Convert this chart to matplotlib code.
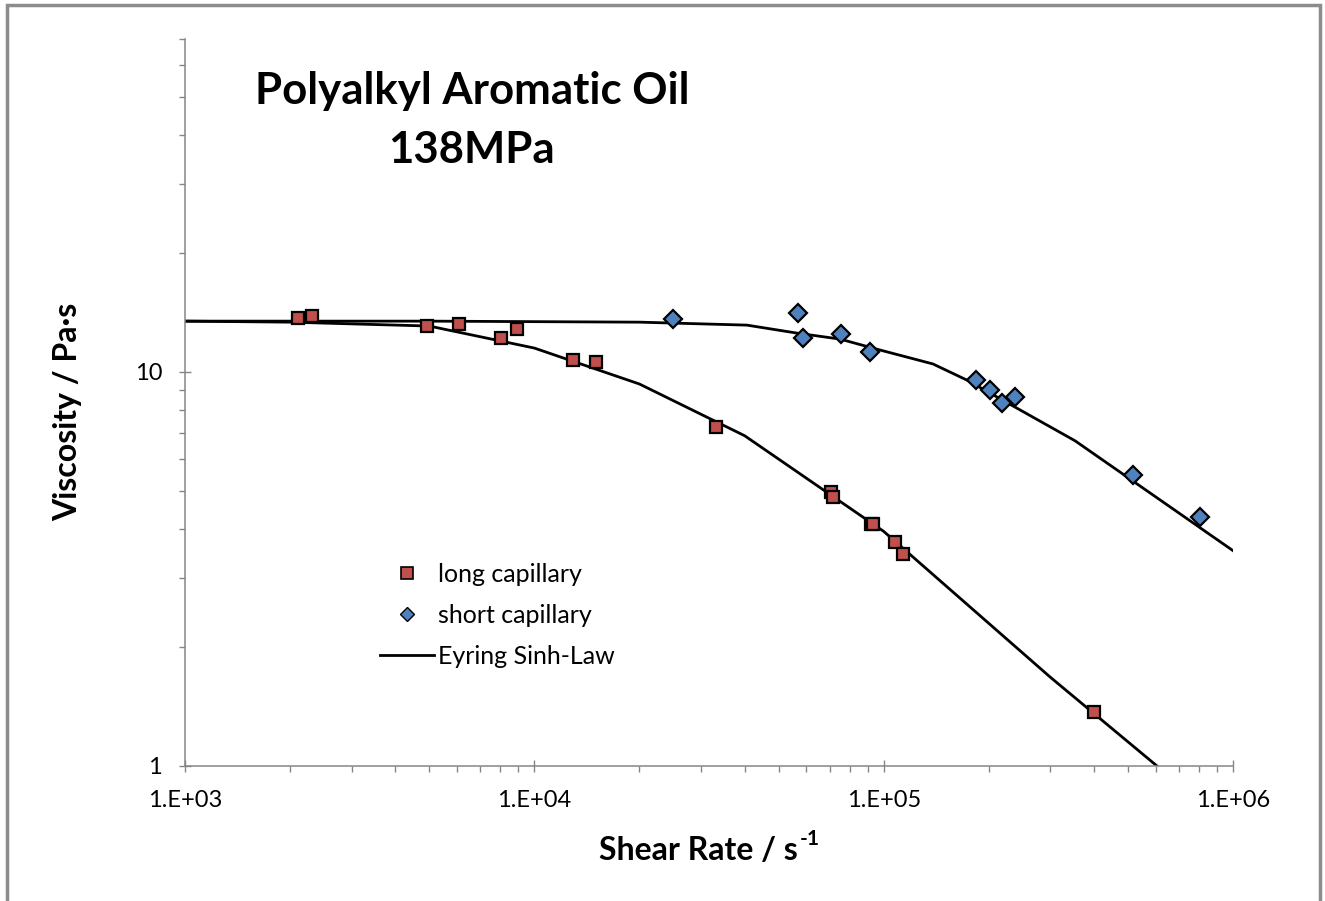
import numpy as np
import matplotlib
matplotlib.use('Agg')
import matplotlib.pyplot as plt
from matplotlib.lines import Line2D
from matplotlib.patches import Rectangle
from matplotlib.ticker import LogLocator, FixedLocator, FuncFormatter, NullFormatter

plt.rcParams['font.family'] = ['Lato', 'DejaVu Sans']

#
##MEASURED VISCOSITY, LONG CAPILLARY (shear rate 1/s, viscosity Pa.s)
long_rate = [2110, 2314, 4919, 6098, 8010, 8940, 12930, 14980, 33050,
             70700, 71700, 91800, 93000, 107800, 113400, 399000]
long_visc = [13.72, 13.86, 13.08, 13.25, 12.21, 12.87, 10.72, 10.60, 7.23,
             4.95, 4.81, 4.12, 4.12, 3.70, 3.46, 1.373]

#
##MEASURED VISCOSITY, SHORT CAPILLARY
short_rate = [24980, 56900, 58700, 75500, 91200, 183800, 201600, 218600,
              237200, 518000, 806000]
short_visc = [13.64, 14.08, 12.17, 12.50, 11.23, 9.56, 8.99, 8.33,
              8.65, 5.49, 4.28]

#
##EYRING SINH-LAW CURVES (tabulated points)
fit_long_rate = [1e3, 2e3, 5e3, 1e4, 2e4, 4e4, 1e5, 3e5, 6.06e5, 1e6]
fit_long_visc = [13.46, 13.38, 13.08, 11.5, 9.32, 6.89, 3.94, 1.68, 1.0, 0.68]
fit_short_rate = [1e3, 5e3, 2e4, 4.06e4, 5.65e4, 7.5e4, 9.76e4, 1.384e5,
                  1.73e5, 3.53e5, 1e6]
fit_short_visc = [13.46, 13.46, 13.38, 13.15, 12.55, 12.12, 11.37, 10.48,
                  9.54, 6.69, 3.52]

RED = '#C0504D'
BLUE = '#4F81BD'
GREY = '#868686'

W, H = 1325, 901
fig = plt.figure(figsize=(W / 100, H / 100), dpi=100)
ax = fig.add_axes([185 / W, 135 / H, 1048 / W, 727 / H])

#
##FIT LINES FIRST, MARKERS ON TOP
ax.plot(fit_long_rate, fit_long_visc, color='black', lw=2, zorder=2)
ax.plot(fit_short_rate, fit_short_visc, color='black', lw=2, zorder=2)
ax.plot(long_rate, long_visc, ls='none', marker='s', ms=8.5, mfc=RED,
        mec='black', mew=1.6, zorder=3)
ax.plot(short_rate, short_visc, ls='none', marker='D', ms=9.5, mfc=BLUE,
        mec='black', mew=1.6, zorder=3)

ax.set_xscale('log')
ax.set_yscale('log')
ax.set_xlim(1e3, 1e6)
ax.set_ylim(1, 70)

##Excel style tick labels
ax.xaxis.set_major_locator(LogLocator(base=10, numticks=10))
ax.xaxis.set_major_formatter(FuncFormatter(lambda v, p: '1.E+%02d' % round(np.log10(v))))
ax.xaxis.set_minor_locator(LogLocator(base=10, subs=np.arange(2, 10), numticks=20))
ax.xaxis.set_minor_formatter(NullFormatter())
ax.yaxis.set_major_locator(FixedLocator([1, 10]))
ax.yaxis.set_major_formatter(FuncFormatter(lambda v, p: '%d' % v))
ax.yaxis.set_minor_locator(LogLocator(base=10, subs=np.arange(2, 10), numticks=20))
ax.yaxis.set_minor_formatter(NullFormatter())

ax.tick_params(which='major', direction='inout', length=9, width=1, color=GREY,
               labelsize=17, labelcolor='black')
ax.tick_params(axis='x', which='major', pad=13)
ax.tick_params(axis='y', which='major', pad=12)
ax.tick_params(which='minor', direction='out', length=4.5, width=1, color=GREY)

for s in ['top', 'right']:
    ax.spines[s].set_visible(False)
for s in ['left', 'bottom']:
    ax.spines[s].set_color(GREY)
    ax.spines[s].set_linewidth(1.1)

#
##TITLE AND AXIS LABELS
fig.text(472 / W, 1 - 104 / H, 'Polyalkyl Aromatic Oil', ha='center', va='baseline',
         fontsize=31.5, fontweight='bold')
fig.text(471 / W, 1 - 163 / H, '138MPa', ha='center', va='baseline',
         fontsize=31.5, fontweight='bold')

##x label with a small "-1" superscript placed after the text
xl = fig.text(0, 1 - 860 / H, 'Shear Rate / s', ha='left', va='baseline',
              fontsize=23, fontweight='bold')
sup = fig.text(0, 1 - 845 / H, '-1', ha='left', va='baseline',
               fontsize=15, fontweight='bold')
fig.canvas.draw()
r = fig.canvas.get_renderer()
w_main = xl.get_window_extent(r).width
w_sup = sup.get_window_extent(r).width
x0 = 709 - (w_main + w_sup + 2) / 2
xl.set_x(x0 / W)
sup.set_x((x0 + w_main + 2) / W)

fig.text(68 / W, 1 - 412 / H, 'Viscosity / Pa·s', ha='center', va='center',
         rotation=90, fontsize=23, fontweight='bold')

#
##LEGEND
handles = [Line2D([], [], ls='none', marker='s', ms=8.5, mfc=RED, mec='black', mew=1.2),
           Line2D([], [], ls='none', marker='D', ms=7.5, mfc=BLUE, mec='black', mew=1.0),
           Line2D([], [], color='black', lw=2)]
labels = ['long capillary', 'short capillary', 'Eyring Sinh-Law']
ax.legend(handles, labels, loc='upper left', bbox_to_anchor=(380 / W, 1 - 563 / H),
          bbox_transform=fig.transFigure, frameon=False, fontsize=18,
          handlelength=2.15, handletextpad=0.15, labelspacing=0.72,
          borderpad=0, borderaxespad=0, numpoints=1)

##grey frame round the whole chart
fig.patches.append(Rectangle((7 / W, -0.05), 1313 / W, 1.05 - 5 / H, transform=fig.transFigure,
                             fill=False, ec='#8c8c8c', lw=2.5))

fig.savefig('out.png', dpi=100)
